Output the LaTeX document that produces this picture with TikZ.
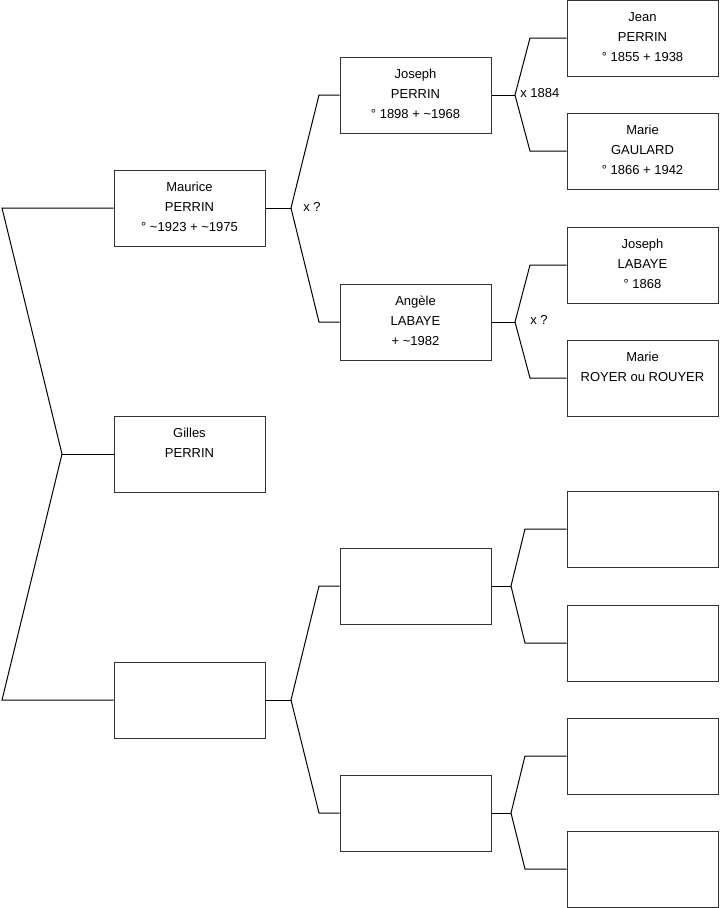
\documentclass[tikz,border=0pt]{standalone}
\usepackage{fontspec}
\setmainfont{Liberation Sans}
\newcommand{\bxt}[1]{\parbox[c][57pt][t]{113pt}{\centering\fontsize{9.75}{15}\selectfont\rule{0pt}{16.25pt}#1}}
\begin{document}
\begin{tikzpicture}[x=0.75pt,y=-0.75pt,
  box/.style={draw=black!80, line width=0.75pt, minimum width=113.25pt, minimum height=57pt, inner sep=0pt},
  conn/.style={draw=black, line width=0.75pt},
  lbl/.style={inner sep=0pt, anchor=west, font=\fontsize{9.75}{12}\selectfont}]
\useasboundingbox (0,0) rectangle (719,908);
% column 1
\node[box] (maurice) at (189.5,208) {\bxt{Maurice\\PERRIN\\° \textasciitilde1923 + \textasciitilde1975}};
\node[box] (gilles) at (189.5,454) {\bxt{Gilles\\PERRIN}};
\node[box] (e1) at (189.5,700) {};
% column 2
\node[box] (josephp) at (415.5,95) {\bxt{Joseph\\PERRIN\\° 1898 + \textasciitilde1968}};
\node[box] (angele) at (415.5,322) {\bxt{Angèle\\LABAYE\\+ \textasciitilde1982}};
\node[box] (e2) at (415.5,586) {};
\node[box] (e3) at (415.5,813) {};
% column 3
\node[box] (jean) at (642.5,38) {\bxt{Jean\\PERRIN\\° 1855 + 1938}};
\node[box] (marieg) at (642.5,151) {\bxt{Marie\\GAULARD\\° 1866 + 1942}};
\node[box] (josephl) at (642.5,265) {\bxt{Joseph\\LABAYE\\° 1868}};
\node[box] (marier) at (642.5,378) {\bxt{Marie\\ROYER ou ROUYER}};
\node[box] (e4) at (642.5,529) {};
\node[box] (e5) at (642.5,643) {};
\node[box] (e6) at (642.5,756) {};
\node[box] (e7) at (642.5,869) {};
% fork coordinates
\coordinate (a1) at (2,208);
\coordinate (g0) at (62,454);
\coordinate (a2) at (2,700);
\coordinate (f1) at (291,208);
\coordinate (f1u) at (319,95);
\coordinate (f1d) at (319,322);
\coordinate (f2) at (515,95);
\coordinate (f2u) at (530,38);
\coordinate (f2d) at (530,151);
\coordinate (f3) at (515,322);
\coordinate (f3u) at (530,265);
\coordinate (f3d) at (530,378);
\coordinate (f4) at (291,700);
\coordinate (f4u) at (319,586);
\coordinate (f4d) at (319,813);
\coordinate (f5) at (511,586);
\coordinate (f5u) at (525,529);
\coordinate (f5d) at (525,643);
\coordinate (f6) at (511,813);
\coordinate (f6u) at (525,756);
\coordinate (f6d) at (525,869);
% connectors
\draw[conn] (maurice.west) -- (a1) -- (g0) -- (a2) -- (e1.west);
\draw[conn] (g0) -- (gilles.west);
\draw[conn] (maurice.east) -- (f1);
\draw[conn] (josephp.west) -- (f1u) -- (f1) -- (f1d) -- (angele.west);
\draw[conn] (josephp.east) -- (f2);
\draw[conn] (jean.west) -- (f2u) -- (f2) -- (f2d) -- (marieg.west);
\draw[conn] (angele.east) -- (f3);
\draw[conn] (josephl.west) -- (f3u) -- (f3) -- (f3d) -- (marier.west);
\draw[conn] (e1.east) -- (f4);
\draw[conn] (e2.west) -- (f4u) -- (f4) -- (f4d) -- (e3.west);
\draw[conn] (e2.east) -- (f5);
\draw[conn] (e4.west) -- (f5u) -- (f5) -- (f5d) -- (e5.west);
\draw[conn] (e3.east) -- (f6);
\draw[conn] (e6.west) -- (f6u) -- (f6) -- (f6d) -- (e7.west);
% labels
\node[lbl] (l1) at (303,207) {x ?};
\node[lbl] (l2) at (520,93) {x 1884};
\node[lbl] (l3) at (530,320) {x ?};
\end{tikzpicture}
\end{document}
